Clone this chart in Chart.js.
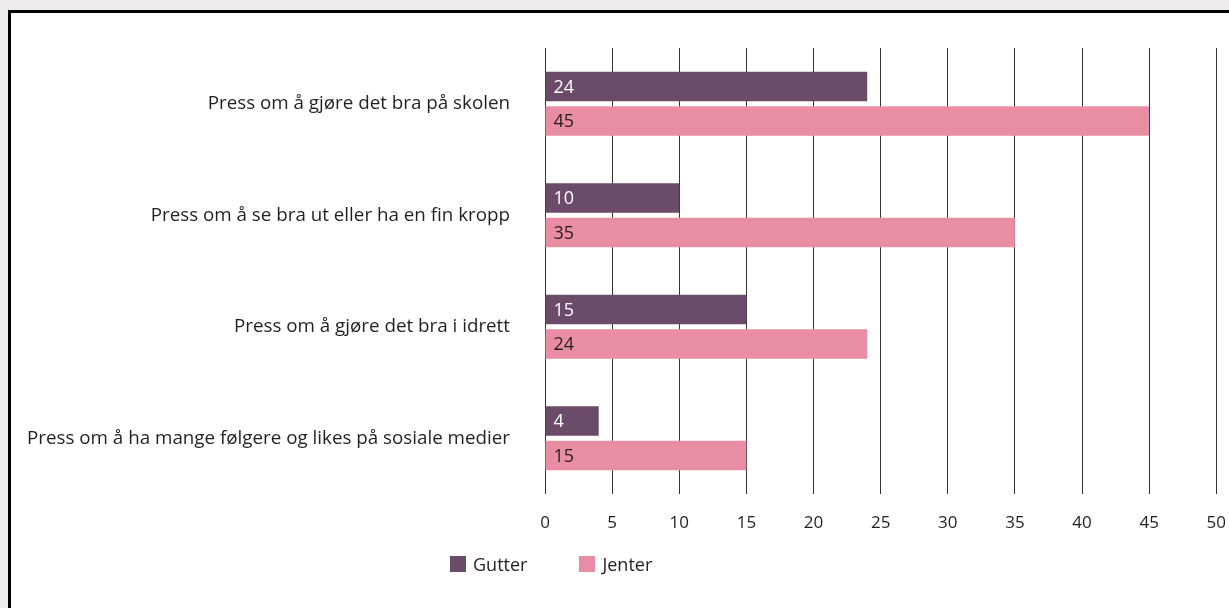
<!DOCTYPE html>
<html lang="no">
<head>
<meta charset="utf-8">
<title>Press</title>
<script src="https://cdn.jsdelivr.net/npm/chart.js@4/dist/chart.umd.min.js"></script>
<style>
  html, body { margin: 0; padding: 0; background: #edebeb; overflow: hidden; }
  .frame {
    position: absolute; left: 8px; top: 10px;
    width: 1300px; height: 700px;
    background: #fff; border: 3px solid #000;
  }
  .wrap { position: absolute; left: 0; top: 0; width: 1229px; height: 608px; overflow: hidden; }
  .legend {
    position: absolute; top: 552px; left: 450px;
    font-family: "Open Sans", sans-serif; font-size: 18px; color: #231f20;
    display: flex; align-items: center;
  }
  .legend span.box { display: inline-block; width: 16px; height: 16px; margin-right: 7px; }
  .legend .item { display: flex; align-items: center; margin-right: 52px; }
</style>
</head>
<body>
<div class="frame"></div>
<div class="wrap"><canvas id="chart" width="1245" height="608"></canvas></div>
<div class="legend" id="legend"></div>
<script>
'use strict';

// ── Data ───────────────────────────────────────────────────
const categories = [
  'Press om å gjøre det bra på skolen',
  'Press om å se bra ut eller ha en fin kropp',
  'Press om å gjøre det bra i idrett',
  'Press om å ha mange følgere og likes på sosiale medier'
];
const gutter = [24, 10, 15, 4];
const jenter = [45, 35, 24, 15];
const xTicks = [0, 5, 10, 15, 20, 25, 30, 35, 40, 45, 50];

const COLORS = { gutter: '#6b4a6a', jenter: '#e98da4' };
const FONT = '"Open Sans", sans-serif';

// value labels inside the bars, left aligned
const barLabels = {
  id: 'barLabels',
  afterDatasetsDraw(chart) {
    const ctx = chart.ctx;
    ctx.save();
    ctx.font = '18px ' + FONT;
    ctx.textBaseline = 'middle';
    ctx.textAlign = 'left';
    chart.data.datasets.forEach((ds, i) => {
      const meta = chart.getDatasetMeta(i);
      meta.data.forEach((bar, j) => {
        ctx.fillStyle = i === 0 ? '#ffffff' : '#231f20';
        ctx.fillText(ds.data[j], bar.base + 8, bar.y + 1);
      });
    });
    ctx.restore();
  }
};

new Chart(document.getElementById('chart'), {
  type: 'bar',
  data: {
    labels: categories,
    datasets: [
      { label: 'Gutter', data: gutter, backgroundColor: COLORS.gutter,
        barPercentage: 0.855, categoryPercentage: 0.62 },
      { label: 'Jenter', data: jenter, backgroundColor: COLORS.jenter,
        barPercentage: 0.855, categoryPercentage: 0.62 }
    ]
  },
  options: {
    indexAxis: 'y',
    responsive: false,
    animation: false,
    layout: { padding: { top: 48, right: 0, left: 0, bottom: 0 } },
    scales: {
      x: {
        min: 0, max: 50,
        afterBuildTicks: s => { s.ticks = xTicks.map(v => ({ value: v })); },
        afterFit: s => { s.height = 608 - 494; },
        grid: { color: '#333', lineWidth: 1, drawTicks: false },
        border: { display: false },
        ticks: { color: '#231f20', padding: 19, font: { family: FONT, size: 17 } }
      },
      y: {
        afterFit: s => { s.width = 545; },
        grid: { display: false },
        border: { display: false },
        ticks: { color: '#231f20', padding: 27, font: { family: FONT, size: 18.8 } }
      }
    },
    plugins: {
      legend: { display: false },
      tooltip: { enabled: false }
    }
  },
  plugins: [barLabels]
});

// ── Legend ─────────────────────────────────────────────────
document.getElementById('legend').innerHTML = [
  ['Gutter', COLORS.gutter], ['Jenter', COLORS.jenter]
].map(([name, c]) => `<div class="item"><span class="box" style="background:${c}"></span>${name}</div>`).join('');
</script>
</body>
</html>
